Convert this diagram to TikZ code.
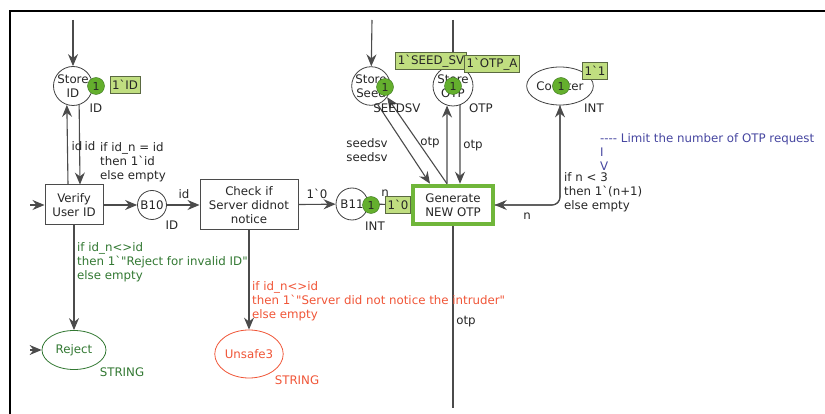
\documentclass[tikz,border=0pt]{standalone}
\usepackage{fontspec}
\setmainfont{DejaVu Sans}[Ligatures=TeXOff]
\usetikzlibrary{arrows.meta,positioning,shapes.geometric}
\definecolor{ArcGrey}{RGB}{75,75,75}
\definecolor{TokGreen}{RGB}{100,175,45}
\definecolor{TokLine}{RGB}{60,120,30}
\definecolor{MarkFill}{RGB}{192,222,128}
\definecolor{MarkLine}{RGB}{90,105,65}
\definecolor{TransGreen}{RGB}{112,182,58}
\definecolor{RejGreen}{RGB}{50,120,50}
\definecolor{UnsafeRed}{RGB}{240,85,55}
\definecolor{NoteBlue}{RGB}{70,70,160}
\newcommand{\bq}{\symbol{96}}

\begin{document}
\begin{tikzpicture}[x=1pt, y=-1pt, font=\fontsize{11.8}{14}\selectfont, text=black!85,
            place/.style={draw=black!75, circle, line width=0.8pt, fill=white, inner sep=0pt, align=center},
            trans/.style={draw=ArcGrey, line width=1pt, fill=white, inner sep=0pt, align=center},
            token/.style={circle, draw=TokLine, fill=TokGreen, minimum size=17pt, inner sep=0pt, font=\fontsize{11}{12}\selectfont},
            marking/.style={draw=MarkLine, fill=MarkFill, line width=0.8pt, minimum height=17pt, inner sep=2pt},
            lbl/.style={inner sep=1pt, align=left},
            arc/.style={draw=ArcGrey, line width=1.1pt, -{Stealth[length=12pt,width=10pt,inset=4pt]}}
        ]
            \useasboundingbox (0,0) rectangle (825,414);
            \draw[line width=1.6pt] (10,414) -- (10,11) -- (830,11);

            \node[place, minimum size=39pt] (sid)  at (73,86)  {Store\\ID};
            \node[place, minimum size=38pt] (seed) at (371,86) {Store\\Seed};
            \node[place, minimum size=40pt] (otp)  at (453,86) {Store\\OTP};
            \node[place, ellipse, minimum width=61pt, minimum height=38pt] (cnt) at (560,86) {Counter};
            \node[place, minimum size=29pt] (b10) at (152,205) {B10};
            \node[place, minimum size=32pt] (b11) at (352,204) {B11};
            \node[place, ellipse, draw=RejGreen, text=RejGreen, minimum width=64pt, minimum height=39pt] (rej) at (74,350) {Reject};
            \node[place, ellipse, draw=UnsafeRed, text=UnsafeRed, minimum width=64pt, minimum height=48pt] (uns) at (249,354) {Unsafe3};

            \node[trans, minimum width=58pt, minimum height=40pt] (ver) at (74,205) {Verify\\User ID};
            \node[trans, minimum width=98pt, minimum height=50pt] (chk) at (249,205) {Check if\\Server didnot\\notice};
            \node[trans, draw=TransGreen, line width=3.5pt, minimum width=80pt, minimum height=39pt] (gen) at (453,205) {Generate\\NEW OTP};
            \draw[TransGreen, line width=0.7pt] ([shift={(3.5,3.5)}]gen.north west) rectangle ([shift={(-3.5,-3.5)}]gen.south east);

            \coordinate (sidin)  at (73,20);
            \coordinate (seedin) at (372,20);
            \coordinate (otpin)  at (453,20);
            \coordinate (verin)  at (30,205);
            \coordinate (rejin)  at (30,350);
            \coordinate (otpout) at (453,408);

            \draw[arc] (sidin) -- (sid);
            \draw[arc] (seedin) -- (seed);
            \draw[arc] (otpin) -- (otp);
            \draw[arc] (verin) -- (ver);
            \draw[arc] (rejin) -- (rej);
            \draw[arc] ([xshift=-6pt]ver.north) -- (sid.-108);
            \draw[arc] (sid.-72) -- ([xshift=6pt]ver.north);
            \draw[arc] (ver) -- (b10);
            \draw[arc] (b10) -- (chk);
            \draw[arc] (chk) -- (b11);
            \draw[arc] (b11) -- (gen);
            \draw[arc] (ver) -- (rej);
            \draw[arc] (chk) -- (uns);
            \draw[arc] (seed.-70) -- ([xshift=-23pt]gen.north);
            \draw[arc] ([xshift=-6pt]gen.north) -- (seed.-35);
            \draw[arc] ([xshift=-6pt]gen.north) -- (otp.-107);
            \draw[arc] (otp.-70) -- ([xshift=7pt]gen.north);
            \draw[arc, rounded corners=8pt] (gen) -| (cnt);
            \draw[arc, rounded corners=8pt] (cnt) |- (gen);
            \draw[draw=ArcGrey, line width=1.1pt] (gen) -- (otpout);

            \node[lbl] (tid1)  at (96,108)  {ID};
            \node[lbl] (tseed) at (397,108) {SEEDSV};
            \node[lbl] (totp)  at (481,108) {OTP};
            \node[lbl] (tcnt)  at (594,108) {INT};
            \node[lbl] (tid2)  at (172,225) {ID};
            \node[lbl] (tint)  at (375,226) {INT};
            \node[lbl, text=RejGreen]  (tstr1) at (122,372) {STRING};
            \node[lbl, text=UnsafeRed] (tstr2) at (297,380) {STRING};

            \node[lbl] (aid1) at (77,146) {id};
            \node[lbl] (aid2) at (90,146) {id};
            \node[lbl, anchor=west] (gid) at (99,162) {if id\_n = id\\then 1\bq id\\else empty};
            \node[lbl] (aid3) at (184,194) {id};
            \node[lbl] (azero) at (317,194) {1\bq 0};
            \node[lbl] (an1) at (385,193) {n};
            \node[lbl, align=center] (aseed) at (367,150) {seedsv\\seedsv};
            \node[lbl] (aotp1) at (430,143) {otp};
            \node[lbl] (aotp2) at (473,146) {otp};
            \node[lbl] (aotp3) at (466,322) {otp};
            \node[lbl] (an2) at (527,216) {n};
            \node[lbl, anchor=west] (gcnt) at (563,192) {if n < 3\\then 1\bq(n+1)\\else empty};
            \node[lbl, anchor=west, text=RejGreen] (grej) at (76,262) {if id\_n<>id\\then 1\bq"Reject for invalid ID"\\else empty};
            \node[lbl, anchor=west, text=UnsafeRed] (guns) at (251,301) {if id\_n<>id\\then 1\bq"Server did not notice the intruder"\\else empty};
            \node[lbl, anchor=west, text=NoteBlue] (note) at (599,152) {---- Limit the number of OTP request\\I\\V};

            \node[token] (ksid)  at (96,86)  {1};
            \node[token] (kseed) at (385,87) {1};
            \node[token] (kotp)  at (453,86) {1};
            \node[token] (kcnt)  at (561,86) {1};
            \node[token] (kb11)  at (371,205) {1};
            \node[marking] (msid)  at (125,85)  {1\bq ID};
            \node[marking] (mseed) at (431,61)  {1\bq SEED\_SV};
            \node[marking] (motp)  at (492,64)  {1\bq OTP\_A};
            \node[marking] (mcnt)  at (595,71)  {1\bq 1};
            \node[marking] (mb11)  at (398,205) {1\bq 0};
        \end{tikzpicture}
\end{document}
